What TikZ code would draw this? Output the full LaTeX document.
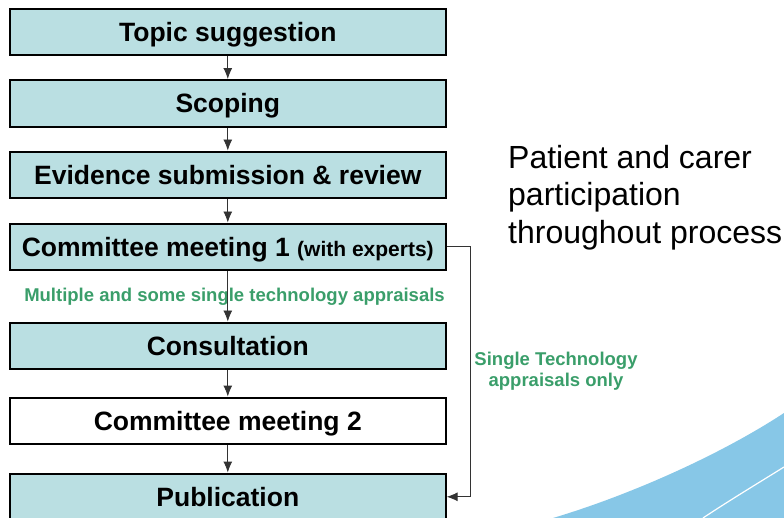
\documentclass[tikz,border=0pt]{standalone}
\usepackage{fontspec}
\setmainfont{Liberation Sans}
\usetikzlibrary{arrows.meta,positioning}
\definecolor{boxblue}{HTML}{BADFE2}
\definecolor{notegreen}{HTML}{3A9E6A}
\definecolor{swoosh}{HTML}{87C7E7}
\tikzset{
    %Define style for process boxes
    stage/.style={
           rectangle,
           fill=boxblue,
           draw=black, line width=2pt,
           minimum width=435.7pt,
           minimum height=46.5pt,
           font=\fontsize{26.5}{30}\selectfont\bfseries,
           text height=19pt, text depth=0pt,
           inner sep=0pt},
    stageW/.style={stage,fill=white},
    % Define arrow style
    pil/.style={
	   -{Latex[length=11pt,width=9pt]},
	   line width=0.9pt,
	   draw=black!80},
    % Define style for green notes
    note/.style={text=notegreen,font=\fontsize{18.5}{21}\selectfont\bfseries,align=center,inner sep=0pt}
}

\begin{document}
\begin{tikzpicture}[x=1pt,y=-1pt,node distance=23pt]
  \useasboundingbox (0,0) rectangle (784,518);
  % swoosh in the corner
  \fill[swoosh] (553,518) .. controls (630,495) and (720,455) .. (784,413) -- (784,518) -- cycle;
  \draw[white,line width=1.2pt] (703,518) .. controls (730,500) and (760,482) .. (784,467);
  \node[stage ] (topic) at (227.8,31.8) {Topic suggestion};
  \node[stage ] (scoping) [below=of topic] {Scoping};
  \node[stage ] (evidence) [below=of scoping] {Evidence submission \& review};
  \node[stage ] (cm1) [below=23.5pt of evidence] {Committee meeting 1 {\fontsize{21}{24}\selectfont(with experts)}};
  \node[stage ] (consult) [below=50.5pt of cm1] {Consultation};
  \node[stageW] (cm2) [below=26.5pt of consult] {Committee meeting 2};
  \node[stage ] (pub) [below=27.5pt of cm2] {Publication};
  \node[note] (multi) at (234.5,297) {Multiple and some single technology appraisals};
  \node[note] (single) at (556,371.7) {Single Technology\\appraisals only};
  \node[anchor=north west,inner sep=0pt,align=left,font=\fontsize{32}{37.5}\selectfont] (patient) at (508,145)
    {Patient and carer\\participation\\throughout process};
  \draw[pil] (topic) -- (scoping);
  \draw[pil] (scoping) -- (evidence);
  \draw[pil] (evidence) -- (cm1);
  \draw[pil] (cm1) -- (consult);
  \draw[pil] (consult) -- (cm2);
  \draw[pil] (cm2) -- (pub);
  \draw[pil] (cm1.east) -| ([xshift=23.5pt]pub.east) -- (pub.east);
\end{tikzpicture}
\end{document}
